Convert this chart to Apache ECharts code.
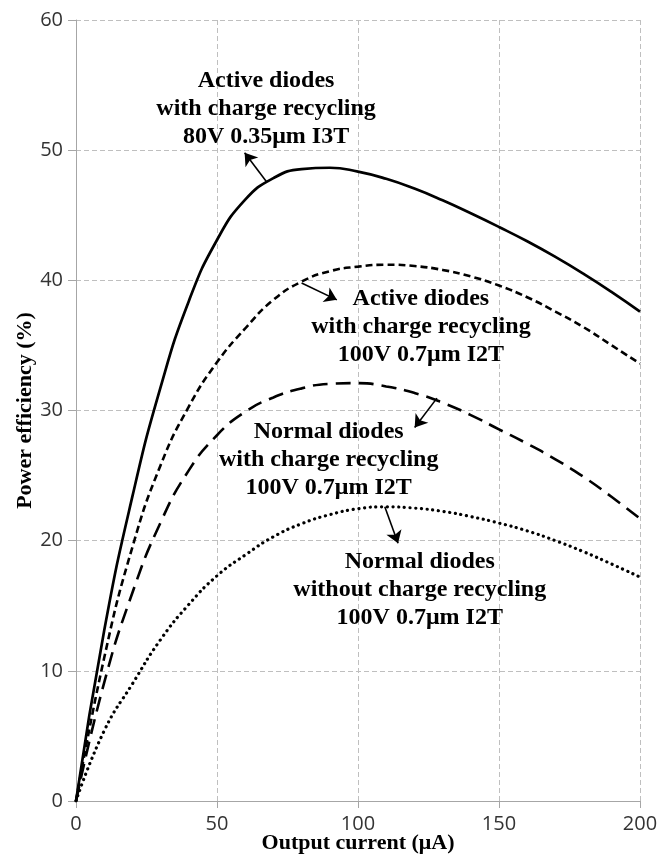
<!DOCTYPE html>
<html>
<head>
<meta charset="utf-8">
<script src="https://cdn.jsdelivr.net/npm/echarts@6/dist/echarts.min.js"></script>
<style>
html,body{margin:0;padding:0;background:#fff;}
#chart{width:657px;height:854px;}
</style>
</head>
<body>
<div id="chart"></div>
<script>
// ---- data ----
const xTicks = [0, 50, 100, 150, 200];
const yTicks = [0, 10, 20, 30, 40, 50, 60];

// output current (µA) sample points shared by all curves
const current = [0, 10, 20, 30, 40, 50, 60, 70, 80, 90, 100, 110, 120, 130, 140, 150, 160, 170, 180, 190, 200];

// Active diodes with charge recycling, 80V 0.35µm I3T (solid)
const active80 = [0, 13.1, 23.4, 31.8, 38.4, 43.1, 46.2, 47.85, 48.55, 48.65, 48.35, 47.8, 47.05, 46.15, 45.15, 44.1, 43.0, 41.8, 40.5, 39.1, 37.6];
// Active diodes with charge recycling, 100V 0.7µm I2T (short dash)
const active100 = [0, 11.0, 19.5, 25.8, 30.3, 33.7, 36.3, 38.5, 39.9, 40.7, 41.05, 41.2, 41.1, 40.8, 40.3, 39.6, 38.7, 37.6, 36.4, 35.0, 33.6];
// Normal diodes with charge recycling, 100V 0.7µm I2T (long dash)
const normalCR = [0, 9.1, 16.0, 21.4, 25.4, 28.1, 29.9, 31.0, 31.7, 32.05, 32.1, 31.85, 31.35, 30.6, 29.65, 28.55, 27.45, 26.25, 24.9, 23.35, 21.7];
// Normal diodes without charge recycling, 100V 0.7µm I2T (dotted)
const normalNoCR = [0, 5.4, 9.0, 12.4, 15.1, 17.3, 18.9, 20.3, 21.3, 22.0, 22.45, 22.6, 22.5, 22.25, 21.85, 21.35, 20.75, 20.0, 19.15, 18.2, 17.2];

const annotTexts = [
  'Active diodes\nwith charge recycling\n80V 0.35μm I3T',
  'Active diodes\nwith charge recycling\n100V 0.7μm I2T',
  'Normal diodes\nwith charge recycling\n100V 0.7μm I2T',
  'Normal diodes\nwithout charge recycling\n100V 0.7μm I2T'
];
// annotation anchor (data coords) and arrows [from curve, to text]
const annotPos = [[67.4, 53.2], [122.3, 36.45], [89.6, 26.25], [121.9, 16.2]];
const arrows = [
  [[67.5, 47.6], [59.8, 49.8]],
  [[80, 39.8], [92.5, 38.5]],
  [[128, 30.95], [120.1, 28.7]],
  [[109.5, 22.6], [114.2, 19.8]]
];

const zip = (xs, ys) => xs.map((x, i) => [x, ys[i]]);

const chart = echarts.init(document.getElementById('chart'), null, {renderer: 'canvas'});
const serif = '"Liberation Serif","Times New Roman",serif';
const axisGray = '#a6a6a6';
const gridGray = '#bfbfbf';

function lineSeries(name, data, lineStyle) {
  return {
    name, type: 'line', data, smooth: 0.5, showSymbol: false, symbol: 'none',
    lineStyle: Object.assign({color: '#000'}, lineStyle),
    silent: true
  };
}

const option = {
  animation: false,
  backgroundColor: '#fff',
  grid: {left: 76, right: 17, top: 20, bottom: 53, containLabel: false, outerBoundsMode: 'none'},
  xAxis: {
    type: 'value', min: 0, max: 200, interval: 50,
    name: 'Output current (μA)', nameLocation: 'middle', nameGap: 31, nameMoveOverlap: false,
    nameTextStyle: {fontFamily: serif, fontWeight: 'bold', fontSize: 22, color: '#000'},
    axisLine: {show: true, lineStyle: {color: axisGray, width: 1}},
    axisTick: {show: true, length: 7, lineStyle: {color: axisGray}},
    axisLabel: {fontFamily: '"Open Sans","Noto Sans",sans-serif', fontSize: 20, color: '#333', margin: 13,
      formatter: v => xTicks.includes(v) ? String(v) : ''},
    splitLine: {show: true, lineStyle: {color: gridGray, type: [5, 3], width: 1}}
  },
  yAxis: {
    type: 'value', min: 0, max: 60, interval: 10,
    name: 'Power efficiency (%)', nameLocation: 'middle', nameGap: 40, nameMoveOverlap: false,
    nameTextStyle: {fontFamily: serif, fontWeight: 'bold', fontSize: 22, color: '#000'},
    axisLine: {show: true, lineStyle: {color: axisGray, width: 1}},
    axisTick: {show: true, length: 8, lineStyle: {color: axisGray}},
    axisLabel: {fontFamily: '"Open Sans","Noto Sans",sans-serif', fontSize: 20, color: '#333', margin: 13,
      formatter: v => yTicks.includes(v) ? String(v) : ''},
    splitLine: {show: true, lineStyle: {color: gridGray, type: [5, 3], width: 1}}
  },
  series: [
    lineSeries('Active 80V', zip(current, active80), {width: 2.7, type: 'solid'}),
    lineSeries('Active 100V', zip(current, active100), {width: 2.6, type: [7, 4]}),
    lineSeries('Normal CR', zip(current, normalCR), {width: 2.6, type: [15, 8]}),
    lineSeries('Normal no CR', zip(current, normalNoCR), {width: 3.2, type: [0.1, 5.6], cap: 'round'}),
    {
      name: 'arrows', type: 'line', data: [], silent: true,
      markLine: {
        silent: true, animation: false,
        symbol: ['none', 'arrow'], symbolSize: 12,
        lineStyle: {color: '#000', width: 1.6, type: 'solid'},
        label: {show: false},
        data: arrows.map(a => [{coord: a[0]}, {coord: a[1]}])
      }
    }
  ]
};
chart.setOption(option);

const graphics = annotTexts.map((t, i) => {
  const p = chart.convertToPixel({gridIndex: 0}, annotPos[i]);
  return {
    type: 'text', x: p[0], y: p[1], silent: true,
    style: {
      text: t, fill: '#000',
      font: 'bold 24px ' + serif,
      align: 'center', verticalAlign: 'middle',
      textAlign: 'center', textVerticalAlign: 'middle',
      lineHeight: 28
    }
  };
});
chart.setOption({graphic: graphics});
</script>
</body>
</html>
